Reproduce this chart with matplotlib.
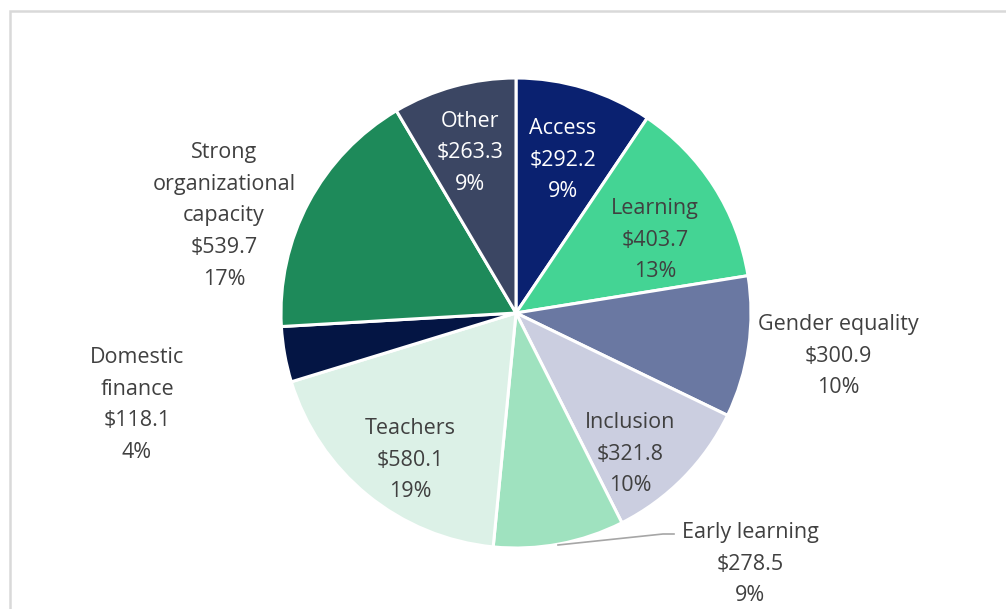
import matplotlib.pyplot as plt
from matplotlib.patches import Rectangle

plt.rcParams["font.family"] = ["Open Sans", "DejaVu Sans"]

categories = ["Access", "Learning", "Gender equality", "Inclusion", "Early learning",
              "Teachers", "Domestic finance", "Strong organizational capacity", "Other"]
values = [292.2, 403.7, 300.9, 321.8, 278.5, 580.1, 118.1, 539.7, 263.3]
percents = [9, 13, 10, 10, 9, 19, 4, 17, 9]
colors = ["#0a2170", "#44d494", "#6a78a2", "#cbcee0", "#9fe2bf",
          "#dcf1e7", "#041544", "#1e8a5a", "#3b4663"]

# label text as wrapped in the original
label_names = ["Access", "Learning", "Gender equality", "Inclusion", "Early learning",
               "Teachers", "Domestic\nfinance", "Strong\norganizational\ncapacity", "Other"]
# label centre positions in pixels (x, y from top)
label_px = [(563, 160), (655, 240), (838, 356), (630, 454), (750, 564),
            (410, 460), (137, 405), (224, 216), (470, 153)]
label_colors = ["white", "#404040", "#404040", "#404040", "#404040",
                "#404040", "#404040", "#404040", "white"]

W, H = 1006, 609
cx, cy, R = 516, 313, 235

fig = plt.figure(figsize=(W / 100, H / 100), dpi=100)
ax = fig.add_axes([0, 0, 1, 1])

ax.pie(values, colors=colors, startangle=90, counterclock=False, radius=1,
       wedgeprops=dict(edgecolor="white", linewidth=2.2))
ax.set_aspect("auto")
ax.set_xlim(-cx / R, (W - cx) / R)
ax.set_ylim(-(H - cy) / R, cy / R)
ax.axis("off")


def to_data(px, py):
    return (px - cx) / R, (cy - py) / R


for name, v, p, (px, py), c in zip(label_names, values, percents, label_px, label_colors):
    x, y = to_data(px, py)
    ax.text(x, y, f"{name}\n${v:.1f}\n{p}%", ha="center", va="center",
            fontsize=15.5, color=c, linespacing=1.68)

# leader line for Early learning
lx, ly = zip(*[to_data(558, 545), to_data(663, 534), to_data(674, 534)])
ax.plot(lx, ly, color="#a6a6a6", lw=1.2)

# outer frame
fig.patches.append(Rectangle((9.5 / W, -0.1), 1.2, (H - 10.5) / H + 0.1,
                             transform=fig.transFigure, fill=False,
                             edgecolor="#d9d9d9", lw=1.8))

fig.savefig("out.png", dpi=100)
